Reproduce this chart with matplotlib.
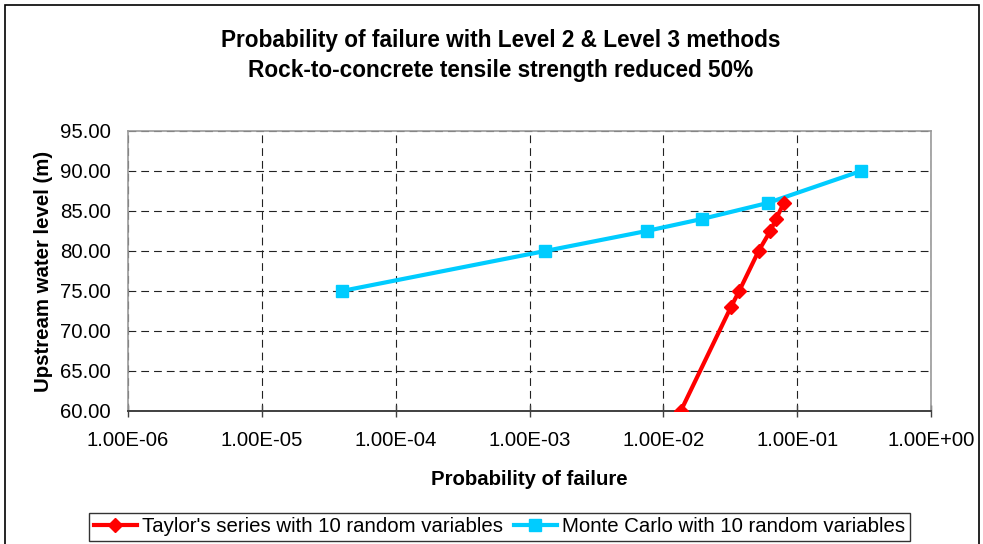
import matplotlib
matplotlib.use("Agg")
import matplotlib.pyplot as plt
from matplotlib.patches import Rectangle
from matplotlib.ticker import FixedLocator, NullLocator

plt.rcParams['font.family'] = ['Liberation Sans', 'DejaVu Sans']

# data
taylor_pf = [1.35e-2, 3.2e-2, 3.69e-2, 5.15e-2, 6.3e-2, 6.96e-2, 7.94e-2]
taylor_h = [60.0, 73.0, 75.0, 80.0, 82.5, 84.0, 86.0]
mc_pf = [3.96e-5, 1.31e-3, 7.5e-3, 1.94e-2, 6.02e-2, 3.0e-1]
mc_h = [75.0, 80.0, 82.5, 84.0, 86.0, 90.0]
x_ticks = [1e-6, 1e-5, 1e-4, 1e-3, 1e-2, 1e-1, 1e0]
x_labels = ["1.00E-06", "1.00E-05", "1.00E-04", "1.00E-03", "1.00E-02", "1.00E-01", "1.00E+00"]
y_ticks = [60, 65, 70, 75, 80, 85, 90, 95]

W, H = 983, 544
fs = 14.7
fig = plt.figure(figsize=(W / 100, H / 100), dpi=100)
ax = fig.add_axes([128 / W, 1 - 411 / H, (931 - 128) / W, (411 - 131) / H])

ax.plot(taylor_pf, taylor_h, color='#FF0000', lw=3.0, marker='D', ms=7,
        label="Taylor's series with 10 random variables", zorder=4)
ax.plot(mc_pf, mc_h, color='#00CCFF', lw=3.0, marker='s', ms=8,
        label="Monte Carlo with 10 random variables", zorder=3)

ax.set_xscale('log')
ax.set_xlim(1e-6, 1e0)
ax.set_ylim(60, 95)
ax.xaxis.set_major_locator(FixedLocator(x_ticks))
ax.xaxis.set_minor_locator(NullLocator())
ax.set_xticklabels(x_labels)
ax.set_yticks(y_ticks)
ax.set_yticklabels([f"{v:.2f}" for v in y_ticks])
ax.tick_params(axis='x', direction='inout', length=9, width=1, color='#404040',
               labelsize=fs, pad=10)
ax.tick_params(axis='y', length=0, labelsize=fs, pad=12.5)

ax.grid(True, which='major', color='#222222', linestyle=(0, (7, 4.5)), linewidth=0.8)
for s in ['top', 'right', 'left']:
    ax.spines[s].set_color('#999999')
    ax.spines[s].set_linewidth(1.2)
ax.spines['bottom'].set_color('#404040')
ax.spines['bottom'].set_linewidth(1.4)

ax.set_xlabel("Probability of failure", fontsize=fs, fontweight='bold', labelpad=14)
ax.set_ylabel("Upstream water level (m)", fontsize=fs, fontweight='bold', labelpad=5)

fig.text(501 / W, 1 - 40 / H, "Probability of failure with Level 2 & Level 3 methods",
         ha='center', va='center', fontsize=16.3, fontweight='bold')
fig.text(501 / W, 1 - 70 / H, "Rock-to-concrete tensile strength reduced 50%",
         ha='center', va='center', fontsize=16.3, fontweight='bold')

leg = fig.legend(loc='center', bbox_to_anchor=(499.5 / W, 1 - 527 / H), ncol=2,
                 fontsize=fs, frameon=True, fancybox=False, handlelength=2.1,
                 handletextpad=0.25, columnspacing=0.55, borderpad=0.22,
                 borderaxespad=0)
leg.get_frame().set_edgecolor('black')
leg.get_frame().set_linewidth(1.0)

# outer chart border
fig.patches.append(Rectangle((5 / W, -0.01), (979 - 5) / W, 1 - 5 / H + 0.01,
                             transform=fig.transFigure, fill=False,
                             edgecolor='black', linewidth=1.2))

fig.savefig("out.png", dpi=100)
